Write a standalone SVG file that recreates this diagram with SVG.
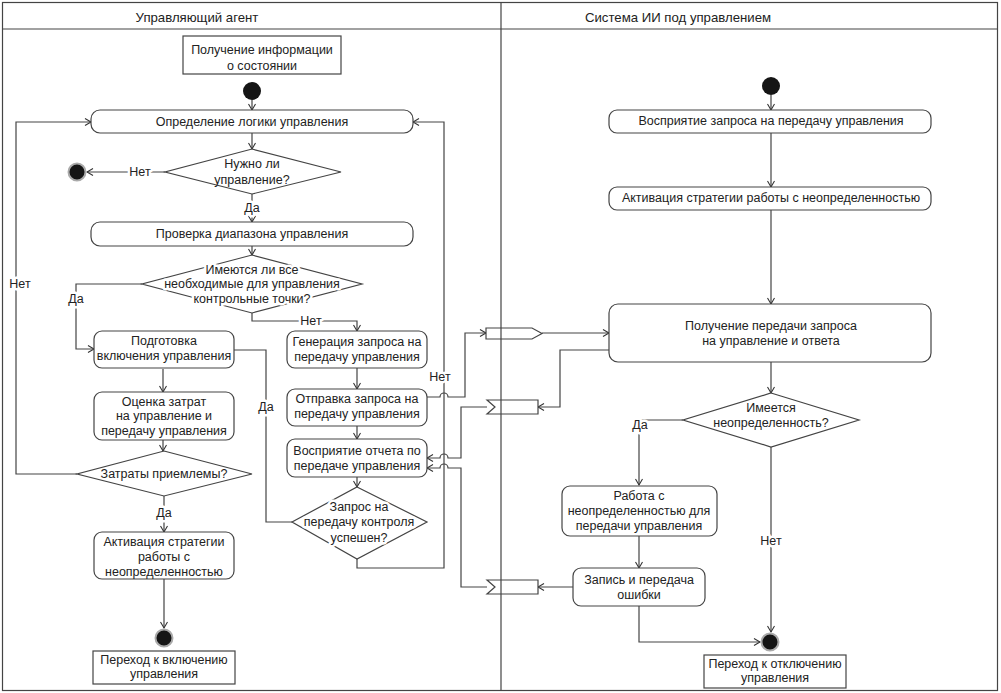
<svg xmlns="http://www.w3.org/2000/svg" width="1001" height="693" viewBox="0 0 1001 693">
<defs>
<marker id="arr" markerWidth="9" markerHeight="9" refX="7.5" refY="4.5" orient="auto" markerUnits="userSpaceOnUse"><path d="M1.5,1 L7.5,4.5 L1.5,8" fill="none" stroke="#333" stroke-width="1.1"/></marker>
</defs>
<style>
text{font-family:"Liberation Sans",Arial,sans-serif;font-size:12.5px;fill:#222;text-anchor:middle;dominant-baseline:central}
.t{font-size:13.2px}
.n{fill:#fff;stroke:#444;stroke-width:1.2}
.c path{fill:none;stroke:#444;stroke-width:1.2}
.a{marker-end:url(#arr)}
.h{stroke:#fff;stroke-width:5;paint-order:stroke;stroke-linejoin:round}
.st{fill:#151515}
.en{fill:#151515;stroke:#aaa;stroke-width:2}
.ln{fill:none;stroke:#444;stroke-width:1.2}
</style>
<rect width="1001" height="693" fill="#fff"/>
<g id="lanes">
<rect class="ln" x="2.5" y="2.5" width="995" height="688"/>
<path class="ln" d="M2.5,29 H997.5"/>
<text class="t" x="197" y="17">Управляющий агент</text>
<text class="t" x="678" y="17">Система ИИ под управлением</text>
</g>
<g id="connectors" class="c">
<path class="a" d="M252,100 V110"/>
<path class="a" d="M252,133 V149"/>
<path class="a" d="M165,172 H87"/>
<path class="a" d="M252,194 V222"/>
<path class="a" d="M252,246 V255"/>
<path class="a" d="M142,284 H76 V349 H94"/>
<path class="a" d="M252,313 V321 H357 V331"/>
<path class="a" d="M163,369 V392"/>
<path class="a" d="M163,440 V451"/>
<path class="a" d="M77,474 H16 V122 H91"/>
<path class="a" d="M164,496 V532"/>
<path class="a" d="M164,579 V628"/>
<path class="a" d="M357,368 V389"/>
<path class="a" d="M357,426 V439"/>
<path class="a" d="M357,477 V487"/>
<path d="M292,522 H266 V350 H234"/>
<path class="a" d="M357,559 V568 H444 V122 H413"/>
<path class="a" d="M427,397 H440 A4,4 0 0 1 448,397 H465 V333 H486"/>
<path class="a" d="M542,333 H609"/>
<path class="a" d="M609,350 H560 V407 H538"/>
<path class="a" d="M487,407 H461 V458 H448 A4,4 0 0 0 440,458 H427"/>
<path class="a" d="M487,587 H461 V468 H448 A4,4 0 0 0 440,468 H427"/>
<path class="a" d="M573,587 H538"/>
<path class="a" d="M771,95 V110"/>
<path class="a" d="M771,133 V187"/>
<path class="a" d="M771,210 V304"/>
<path class="a" d="M771,362 V393"/>
<path class="a" d="M683,420 H639 V485"/>
<path class="a" d="M639,536 V568"/>
<path class="a" d="M639,606 V642 H760"/>
<path class="a" d="M771,447 V632"/>
<g id="labels">
<text class="h" x="140" y="172">Нет</text>
<text class="h" x="252" y="208">Да</text>
<text class="h" x="76" y="299">Да</text>
<text class="h" x="311" y="321">Нет</text>
<text class="h" x="20" y="284">Нет</text>
<text class="h" x="164" y="513">Да</text>
<text class="h" x="266" y="407">Да</text>
<text class="h" x="440" y="377">Нет</text>
<text class="h" x="640" y="425">Да</text>
<text class="h" x="771" y="541">Нет</text>
</g>
</g>
<g id="n_info"><rect class="n" x="183" y="36" width="158" height="38"/><text x="262" y="50">Получение информации</text><text x="262" y="66">о состоянии</text></g>
<g id="start_l"><circle class="st" cx="252" cy="91" r="9"/></g>
<g id="n_logic"><rect class="n" x="91" y="110" width="322" height="23" rx="9"/><text x="252" y="122">Определение логики управления</text></g>
<g id="d_need"><polygon class="n" points="252,149 341,172 252,194 165,172"/><text x="252" y="164">Нужно ли</text><text x="252" y="180">управление?</text></g>
<g id="end_l1"><circle class="en" cx="77" cy="172" r="8.5"/></g>
<g id="n_range"><rect class="n" x="91" y="222" width="322" height="24" rx="9"/><text x="252" y="234">Проверка диапазона управления</text></g>
<g id="d_points"><polygon class="n" points="252,255 362,284 252,313 142,284"/><text class="h" x="252" y="270">Имеются ли все</text><text class="h" x="252" y="284">необходимые для управления</text><text class="h" x="252" y="299">контрольные точки?</text></g>
<g id="n_prep"><rect class="n" x="94" y="331" width="140" height="37" rx="8"/><text x="164" y="341">Подготовка</text><text x="164" y="356">включения управления</text></g>
<g id="n_cost"><rect class="n" x="94" y="392" width="140" height="48" rx="8"/><text x="164" y="402">Оценка затрат</text><text x="164" y="416">на управление и</text><text x="164" y="431">передачу управления</text></g>
<g id="d_cost"><polygon class="n" points="164,451 252,474 164,496 77,474"/><text x="164" y="474">Затраты приемлемы?</text></g>
<g id="n_act_l"><rect class="n" x="94" y="532" width="140" height="47" rx="8"/><text x="164" y="542">Активация стратегии</text><text x="164" y="557">работы с</text><text x="164" y="572">неопределенностью</text></g>
<g id="end_l2"><circle class="en" cx="164" cy="638" r="8.5"/></g>
<g id="n_to_on"><rect class="n" x="93" y="651" width="142" height="33"/><text x="164" y="660">Переход к включению</text><text x="164" y="674">управления</text></g>
<g id="n_gen"><rect class="n" x="287" y="331" width="140" height="37" rx="8"/><text x="357" y="342">Генерация запроса на</text><text x="357" y="357">передачу управления</text></g>
<g id="n_send"><rect class="n" x="287" y="389" width="140" height="37" rx="8"/><text x="357" y="399">Отправка запроса на</text><text x="357" y="414">передачу управления</text></g>
<g id="n_report"><rect class="n" x="287" y="439" width="140" height="38" rx="8"/><text x="357" y="451">Восприятие отчета по</text><text x="357" y="466">передаче управления</text></g>
<g id="d_ok"><polygon class="n" points="357,487 427,522 357,559 292,522"/><text class="h" x="359" y="507">Запрос на</text><text class="h" x="359" y="522">передачу контроля</text><text class="h" x="359" y="538">успешен?</text></g>
<g id="sig_send"><polygon class="n" points="486,328 532,328 542,333.5 532,339 486,339"/></g>
<g id="sig_recv1"><polygon class="n" points="487,400 538,400 538,414 487,414 495,407"/></g>
<g id="sig_recv2"><polygon class="n" points="487,580 538,580 538,594 487,594 495,587"/></g>
<g id="start_r"><circle class="st" cx="771" cy="86" r="9"/></g>
<g id="n_perc"><rect class="n" x="609" y="110" width="322" height="23" rx="8"/><text x="771" y="121">Восприятие запроса на передачу управления</text></g>
<g id="n_act_r"><rect class="n" x="609" y="187" width="322" height="23" rx="8"/><text x="771" y="198">Активация стратегии работы с неопределенностью</text></g>
<g id="n_recv"><rect class="n" x="609" y="304" width="322" height="58" rx="9"/><text x="771" y="326">Получение передачи запроса</text><text x="771" y="341">на управление и ответа</text></g>
<g id="d_unc"><polygon class="n" points="771,393 859,420 771,447 683,420"/><text x="771" y="408">Имеется</text><text x="771" y="423">неопределенность?</text></g>
<g id="n_work"><rect class="n" x="562" y="486" width="155" height="50" rx="8"/><text x="639" y="496">Работа с</text><text x="639" y="511">неопределенностью для</text><text x="639" y="526">передачи управления</text></g>
<g id="n_err"><rect class="n" x="573" y="568" width="132" height="38" rx="8"/><text x="639" y="580">Запись и передача</text><text x="639" y="595">ошибки</text></g>
<g id="end_r"><circle class="en" cx="770" cy="642" r="8.5"/></g>
<g id="n_to_off"><rect class="n" x="704" y="655" width="142" height="33"/><text x="775" y="664">Переход к отключению</text><text x="775" y="678">управления</text></g>
<g id="divider"><path class="ln" d="M501,2.5 V690.5"/></g>
</svg>
